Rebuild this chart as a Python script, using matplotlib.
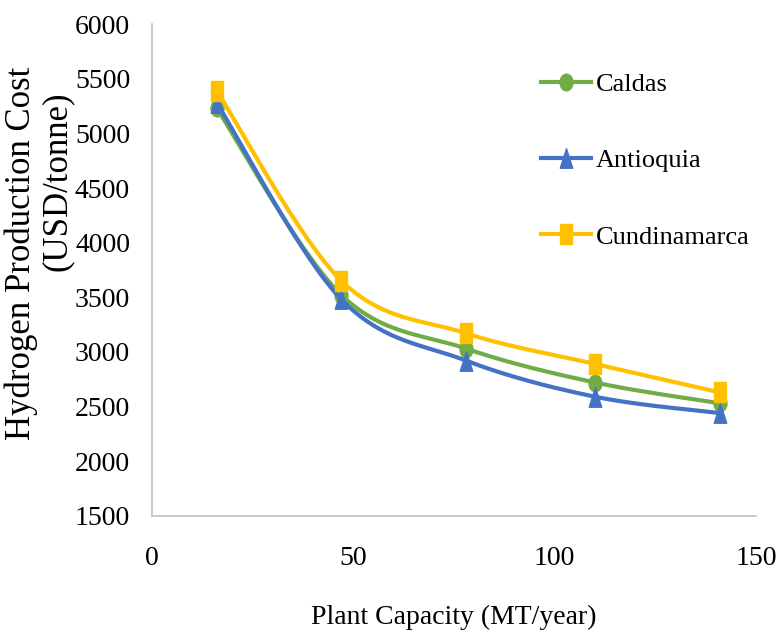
import numpy as np
import matplotlib.pyplot as plt
from matplotlib.path import Path

plt.rcParams['font.family'] = ['Liberation Serif', 'DejaVu Serif']

capacity = [16, 47, 78, 110, 141]
caldas = [5230, 3520, 3030, 2720, 2530]
antioquia = [5280, 3480, 2920, 2590, 2440]
cundinamarca = [5390, 3650, 3170, 2890, 2630]

# narrow markers (the chart is squeezed sideways)
circ = Path.unit_circle()
oval = Path(circ.vertices * [0.39, 0.5], circ.codes)
tri = Path([(0, 0.5), (-0.32, -0.5), (0.32, -0.5), (0, 0.5)],
           [Path.MOVETO, Path.LINETO, Path.LINETO, Path.CLOSEPOLY])
box = Path([(-0.3, -0.5), (0.3, -0.5), (0.3, 0.5), (-0.3, 0.5), (-0.3, -0.5)],
           [Path.MOVETO, Path.LINETO, Path.LINETO, Path.LINETO, Path.CLOSEPOLY])

series = [
    ('Caldas', caldas, '#70AD47', oval, 12),
    ('Antioquia', antioquia, '#4472C4', tri, 14),
    ('Cundinamarca', cundinamarca, '#FFC000', box, 14),
]

fig = plt.figure(figsize=(7.81, 6.36), dpi=100)
ax = fig.add_axes([0.195, 0.189, 0.773, 0.773])
ax.set_xlim(0, 150)
ax.set_ylim(1500, 6000)


def smooth(xs, ys, n=40):
    # Catmull-Rom style bezier through the points, done in screen space
    pts = ax.transData.transform(np.column_stack([xs, ys]))
    p = np.vstack([pts[0], pts, pts[-1]])
    out = []
    t = np.linspace(0, 1, n)[:, None]
    for i in range(1, len(p) - 2):
        p0, p1, p2, p3 = p[i - 1], p[i], p[i + 1], p[i + 2]
        c1 = p1 + (p2 - p0) / 6
        c2 = p2 - (p3 - p1) / 6
        seg = ((1 - t) ** 3 * p1 + 3 * (1 - t) ** 2 * t * c1
               + 3 * (1 - t) * t ** 2 * c2 + t ** 3 * p2)
        out.append(seg)
    curve = ax.transData.inverted().transform(np.vstack(out))
    return curve[:, 0], curve[:, 1]


for name, vals, color, mk, ms in series:
    sx, sy = smooth(capacity, vals)
    ax.plot(sx, sy, color=color, lw=3, solid_capstyle='round')
    ax.plot(capacity, vals, ls='none', marker=mk, ms=ms, color=color)
    ax.plot([], [], color=color, lw=3, marker=mk, ms=ms, label=name)

ax.set_xticks([0, 50, 100, 150])
ax.set_yticks(np.arange(1500, 6001, 500))
ax.tick_params(length=0, labelsize=20)
ax.tick_params(axis='y', pad=16)
ax.tick_params(axis='x', pad=22)
for s in ['top', 'right']:
    ax.spines[s].set_visible(False)
for s in ['left', 'bottom']:
    ax.spines[s].set_color('#BFBFBF')
    ax.spines[s].set_linewidth(1.2)

ax.set_xlabel('Plant Capacity (MT/year)', fontsize=20, labelpad=24)
fig.text(21 / 781, 1 - 253 / 636, 'Hydrogen Production Cost', fontsize=25,
         rotation=90, ha='center', va='center')
fig.text(57 / 781, 1 - 181 / 636, '(USD/tonne)', fontsize=25,
         rotation=90, ha='center', va='center')

ax.legend(loc='upper left', bbox_to_anchor=(517 / 781, 1 - 49 / 636),
          bbox_transform=fig.transFigure, frameon=False, fontsize=19,
          labelspacing=2.0, handlelength=1.9, handletextpad=0.2)

fig.savefig('out.png', dpi=100)
